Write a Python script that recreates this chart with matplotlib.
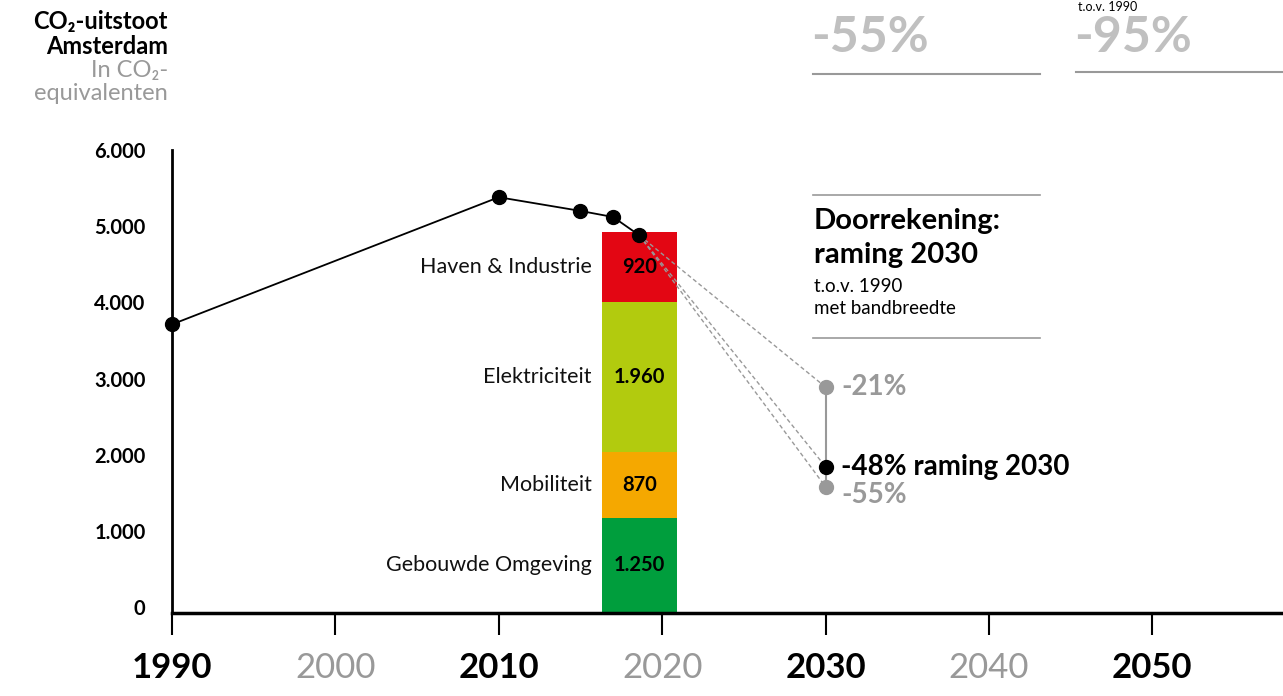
import matplotlib
matplotlib.use("Agg")
import matplotlib.pyplot as plt
import matplotlib.transforms as mtransforms

plt.rcParams['font.family'] = ['Lato', 'DejaVu Sans']

# ---- data ----
line_years = [1990, 2010, 2015, 2017, 2018.6]
line_values = [3790, 5460, 5280, 5200, 4960]

bar_year = 2018.6
bar_width = 4.6
sectors = ["Gebouwde Omgeving", "Mobiliteit", "Elektriciteit", "Haven & Industrie"]
sector_values = [1250, 870, 1960, 920]
sector_labels = ["1.250", "870", "1.960", "920"]
sector_colors = ["#009e3d", "#f5a800", "#b2cb0e", "#e30613"]

proj_year = 2030
proj_values = [2967, 1921, 1658]
proj_labels = ["-21%", "-48% raming 2030", "-55%"]
proj_colors = ["#999999", "#000000", "#999999"]

yticks = [0, 1000, 2000, 3000, 4000, 5000, 6000]
ytick_labels = ["0", "1.000", "2.000", "3.000", "4.000", "5.000", "6.000"]
xticks = [1990, 2000, 2010, 2020, 2030, 2040, 2050]
xtick_labels = ["1990", "2000", "2010", "2020", "2030", "2040", "2050"]
xtick_major = [True, False, True, False, True, False, True]

W, H = 1283, 696
fig = plt.figure(figsize=(W / 100, H / 100), dpi=100)

def fx(x):
    return x / W

def fy(y):
    return 1 - y / H

ax = fig.add_axes([fx(172), fy(613), fx(1283) - fx(172), fy(150) - fy(613)])
ax.set_xlim(1990, 2058)
ax.set_ylim(0, 6080)
ax.patch.set_alpha(0)

# stacked bar
bottom = 0
for name, val, lab, col in zip(sectors, sector_values, sector_labels, sector_colors):
    ax.bar(bar_year, val, width=bar_width, bottom=bottom, color=col, zorder=2)
    mid = bottom + val / 2
    ax.text(bar_year, mid, lab, ha='center', va='center', fontsize=14.5,
            fontweight='bold', color='black', zorder=5)
    ax.text(bar_year - bar_width / 2 - 0.6, mid, name, ha='right', va='center',
            fontsize=15.5, color='#111111', zorder=5)
    bottom += val

# dashed projection lines
for v in proj_values:
    ax.plot([line_years[-1], proj_year], [line_values[-1], v], ls=(0, (3, 2)),
            color='#999999', lw=1, zorder=3)

# vertical band
ax.plot([proj_year, proj_year], [min(proj_values), max(proj_values)],
        color='#999999', lw=1.5, zorder=3)

# history line
ax.plot(line_years, line_values, color='black', lw=1.3, marker='o',
        markersize=10, zorder=6, clip_on=False)

for v, lab, col in zip(proj_values, proj_labels, proj_colors):
    ax.plot(proj_year, v, 'o', color=col, markersize=10, zorder=6)

ax.text(proj_year + 0.95, proj_values[0], proj_labels[0], ha='left', va='center',
        fontsize=20, fontweight='bold', color='#999999')
ax.text(proj_year + 0.95, proj_values[1], proj_labels[1], ha='left', va='center',
        fontsize=20, fontweight='bold', color='black')
ax.text(proj_year + 0.95, proj_values[2] - 110, proj_labels[2], ha='left', va='center',
        fontsize=20, fontweight='bold', color='#999999')

# spines and ticks
for s in ['top', 'right']:
    ax.spines[s].set_visible(False)
ax.spines['left'].set_linewidth(2)
ax.spines['bottom'].set_linewidth(2.5)

ax.set_yticks(yticks)
ax.set_yticklabels(ytick_labels, fontsize=14.5, fontweight='bold')
ax.tick_params(axis='y', length=0, pad=19)
offset = mtransforms.ScaledTranslation(0, 6 / 100, fig.dpi_scale_trans)
for lbl in ax.get_yticklabels():
    lbl.set_transform(lbl.get_transform() + offset)

ax.set_xticks(xticks)
ax.set_xticklabels(xtick_labels, fontsize=25)
ax.tick_params(axis='x', length=16, width=1.5, pad=12, direction='out')
for lbl, tick, major in zip(ax.get_xticklabels(), ax.xaxis.get_major_ticks(), xtick_major):
    if major:
        lbl.set_fontweight('bold')
        lbl.set_color('black')
        tick.tick1line.set_color('black')
    else:
        lbl.set_fontweight('normal')
        lbl.set_color('#999999')
        tick.tick1line.set_color('#aaaaaa')

# titles at left
fig.text(fx(168), fy(22), "CO₂-uitstoot", ha='right', va='center', fontsize=17, fontweight='bold')
fig.text(fx(168), fy(46), "Amsterdam", ha='right', va='center', fontsize=17, fontweight='bold')
fig.text(fx(168), fy(70), "In CO₂-", ha='right', va='center', fontsize=17, color='#999999')
fig.text(fx(168), fy(94), "equivalenten", ha='right', va='center', fontsize=17, color='#999999')

# top right targets
fig.text(fx(811), fy(38), "-55%", ha='left', va='center', fontsize=36,
         fontweight='bold', color='#c0c0c0')
fig.add_artist(plt.Line2D([fx(813), fx(1040)], [fy(74), fy(74)], color='#999999', lw=1.5))
fig.text(fx(1074), fy(38), "-95%", ha='left', va='center', fontsize=36,
         fontweight='bold', color='#c0c0c0')
fig.add_artist(plt.Line2D([fx(1076), fx(1283)], [fy(72), fy(72)], color='#999999', lw=1.5))
fig.text(fx(1078), fy(1), "t.o.v. 1990", ha='left', va='top', fontsize=9, color='black')

# Doorrekening box
fig.add_artist(plt.Line2D([fx(813), fx(1040)], [fy(195), fy(195)], color='#999999', lw=1.2))
fig.add_artist(plt.Line2D([fx(813), fx(1040)], [fy(338), fy(338)], color='#999999', lw=1.2))
fig.text(fx(814), fy(221), "Doorrekening:", ha='left', va='center', fontsize=21, fontweight='bold')
fig.text(fx(814), fy(255), "raming 2030", ha='left', va='center', fontsize=21, fontweight='bold')
fig.text(fx(814), fy(286), "t.o.v. 1990", ha='left', va='center', fontsize=13.5)
fig.text(fx(814), fy(309), "met bandbreedte", ha='left', va='center', fontsize=13.5)

fig.savefig("out.png", dpi=100)
